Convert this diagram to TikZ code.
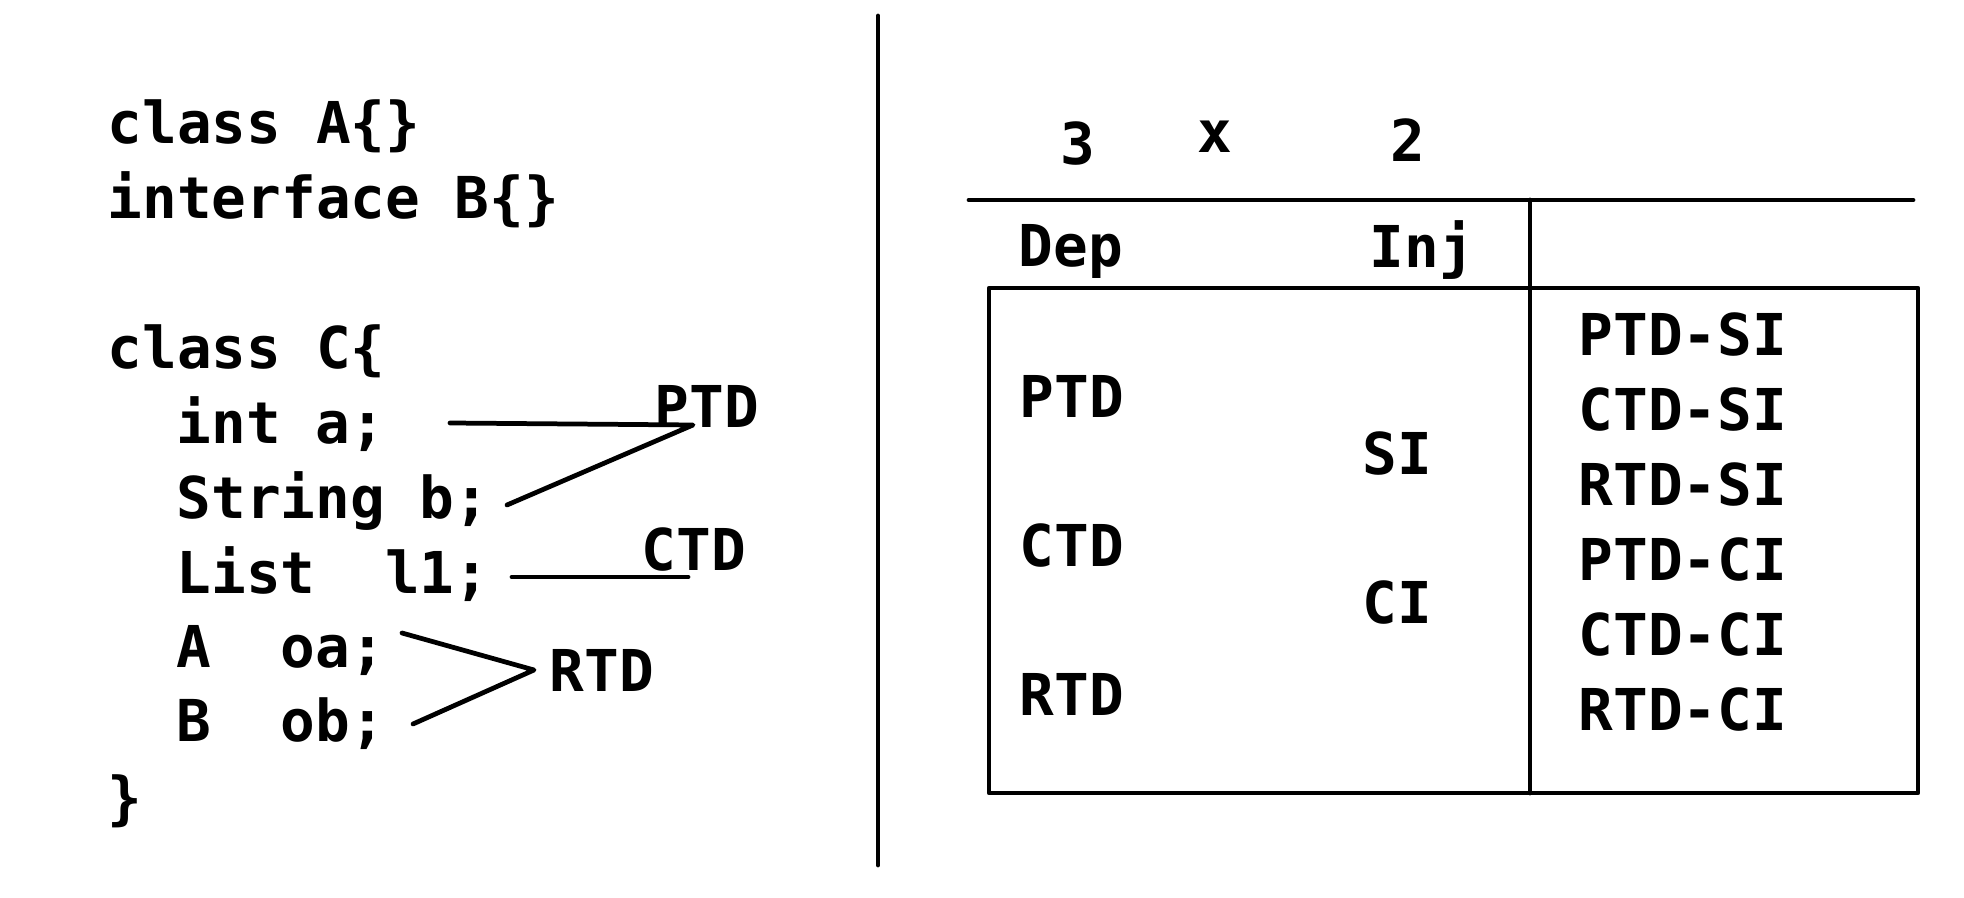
\documentclass[tikz,border=0pt]{standalone}
\usepackage{fontspec}
\setmonofont{DejaVu Sans Mono}
\begin{document}
\begin{tikzpicture}[x=0.01cm,y=-0.01cm,
  code/.style={inner sep=0pt, anchor=base west, font=\fontsize{16.4}{20}\selectfont\ttfamily\bfseries},
  codec/.style={code, anchor=base},
  stroke/.style={line width=1.35pt, line cap=round, line join=round}]
\useasboundingbox (0,0) rectangle (1964,898);
% left: code
\node[code] (l1) at (107,144) {class A\{\}};
\node[code] (l2) at (107,219) {interface B\{\}};
\node[code] (l3) at (107,369) {class C\{};
\node[code] (l4) at (176,444) {int a;};
\node[code] (l5) at (176,519) {String b;};
\node[code] (l6) at (176,594) {List\ \ l1;};
\node[code] (l7) at (176,668) {A\ \ oa;};
\node[code] (l8) at (176,742) {B\ \ ob;};
\node[code] (l9) at (107,818) {\}};
% labels
\node[code] (ptd) at (654,428) {PTD};
\node[code] (ctd) at (641,571) {CTD};
\node[code] (rtd) at (549,692) {RTD};
% connector end points
\coordinate (pa) at (450,423);
\coordinate (pv) at (693,425);
\coordinate (pb) at (507,505);
\coordinate (cl) at (512,577);
\coordinate (cr) at (688,577);
\coordinate (ra) at (402,633);
\coordinate (rv) at (534,670);
\coordinate (rb) at (413,724);
\draw[stroke] (pa) -- (pv) -- (pb);
\draw[stroke] (cl) -- (cr);
\draw[stroke] (ra) -- (rv) -- (rb);
% separator
\coordinate (vt) at (878,16);
\coordinate (vb) at (878,865);
\draw[stroke] (vt) -- (vb);
% right: table
\node[codec] (n3) at (1078,165) {3};
\node[codec] (nx) at (1215,153) {x};
\node[codec] (n2) at (1408,162) {2};
\coordinate (tl) at (969,200);
\coordinate (tr) at (1913,200);
\draw[stroke] (tl) -- (tr);
\node[code] (dep) at (1018,267) {Dep};
\node[code] (inj) at (1369,268) {Inj};
\coordinate (bx1) at (989,288);
\coordinate (bx2) at (1918,793);
\draw[stroke] (bx1) rectangle (bx2);
\coordinate (dt) at (1530,200);
\coordinate (db) at (1530,793);
\draw[stroke] (dt) -- (db);
\node[code] (dptd) at (1019,418) {PTD};
\node[code] (dctd) at (1019,567) {CTD};
\node[code] (drtd) at (1019,716) {RTD};
\node[code] (si) at (1362,475) {SI};
\node[code] (ci) at (1362,624) {CI};
\node[code] (r1) at (1578,356) {PTD-SI};
\node[code] (r2) at (1578,431) {CTD-SI};
\node[code] (r3) at (1578,506) {RTD-SI};
\node[code] (r4) at (1578,581) {PTD-CI};
\node[code] (r5) at (1578,656) {CTD-CI};
\node[code] (r6) at (1578,731) {RTD-CI};
\end{tikzpicture}
\end{document}
